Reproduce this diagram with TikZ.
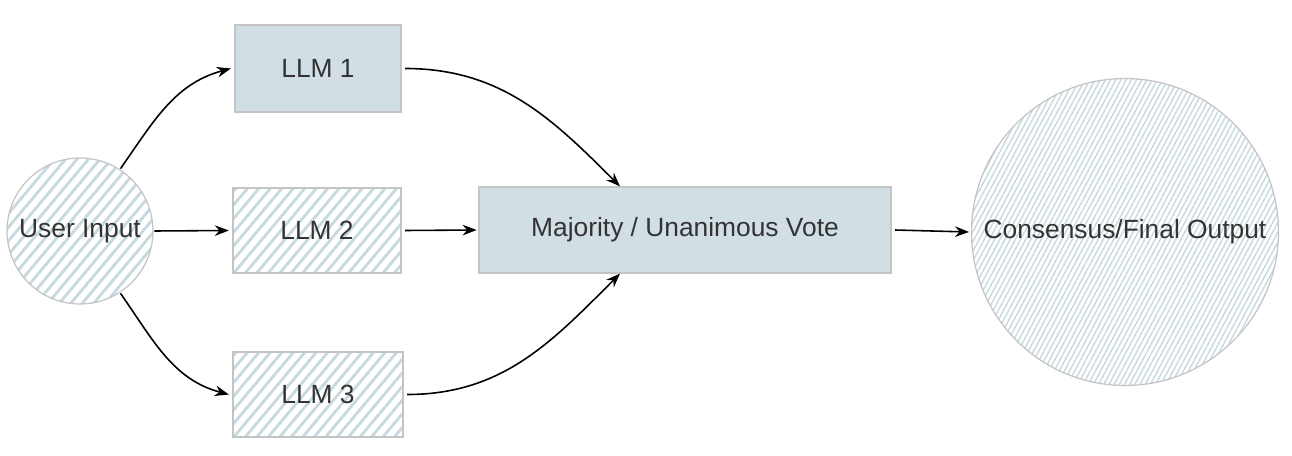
\documentclass[tikz,border=0pt]{standalone}
\usepackage{fontspec}
\setmainfont{Liberation Sans}
\usetikzlibrary{arrows.meta,patterns.meta}
\definecolor{boxfill}{HTML}{D1DFE4}
\definecolor{hatch}{HTML}{C6D9DF}
\definecolor{edgegray}{HTML}{C4C4C4}
\definecolor{txt}{HTML}{333333}
\tikzset{
  lbl/.style={font=\fontsize{15}{18}\selectfont, text=txt},
  solidbox/.style={lbl, draw=edgegray, line width=0.7pt, fill=boxfill, inner sep=0pt},
  hatchbox/.style={lbl, draw=edgegray, line width=0.7pt, inner sep=0pt,
    pattern={Lines[angle=50,distance=5pt,line width=1.6pt]}, pattern color=hatch},
  hatchcirc/.style={lbl, circle, draw=edgegray, line width=0.7pt, inner sep=0pt,
    pattern={Lines[angle=50,distance=5pt,line width=1.6pt]}, pattern color=hatch},
  finecirc/.style={lbl, circle, draw=edgegray, line width=0.7pt, inner sep=0pt,
    pattern={Lines[angle=62,distance=2.6pt,line width=0.8pt]}, pattern color=hatch},
  conn/.style={draw=black, line width=0.9pt, -{Stealth[length=8pt,width=6pt]}}
}
\begin{document}
\begin{tikzpicture}[x=0.02cm,y=-0.02cm]
\useasboundingbox (0,0) rectangle (1292,456);
\node[hatchcirc, minimum size=2.92cm] (user) at (80,231) {User Input};
\node[solidbox, minimum width=3.32cm, minimum height=1.74cm] (llm1) at (318,68.5) {LLM 1};
\node[hatchbox, minimum width=3.36cm, minimum height=1.70cm] (llm2) at (317,230.5) {LLM 2};
\node[hatchbox, minimum width=3.40cm, minimum height=1.70cm] (llm3) at (318,394.5) {LLM 3};
\node[solidbox, minimum width=8.24cm, minimum height=1.72cm] (vote) at (685,230) {Majority / Unanimous Vote};
\node[finecirc, minimum size=6.14cm] (out) at (1125,232) {Consensus/Final Output};
\coordinate (votetop) at ([xshift=-1.3cm]vote.north);
\coordinate (votebot) at ([xshift=-1.3cm]vote.south);
\draw[conn] (user.57) to[out=55,in=195] ([xshift=-2pt]llm1.west);
\draw[conn] (user.east) -- ([xshift=-2pt]llm2.west);
\draw[conn] (user.-57) to[out=-55,in=165] ([xshift=-2pt]llm3.west);
\draw[conn] ([xshift=2pt]llm1.east) to[out=0,in=135] (votetop);
\draw[conn] ([xshift=2pt]llm2.east) -- ([xshift=-1pt]vote.west);
\draw[conn] ([xshift=2pt]llm3.east) to[out=0,in=-135] (votebot);
\draw[conn] ([xshift=2pt]vote.east) -- ([xshift=-1pt]out.west);
\end{tikzpicture}
\end{document}
